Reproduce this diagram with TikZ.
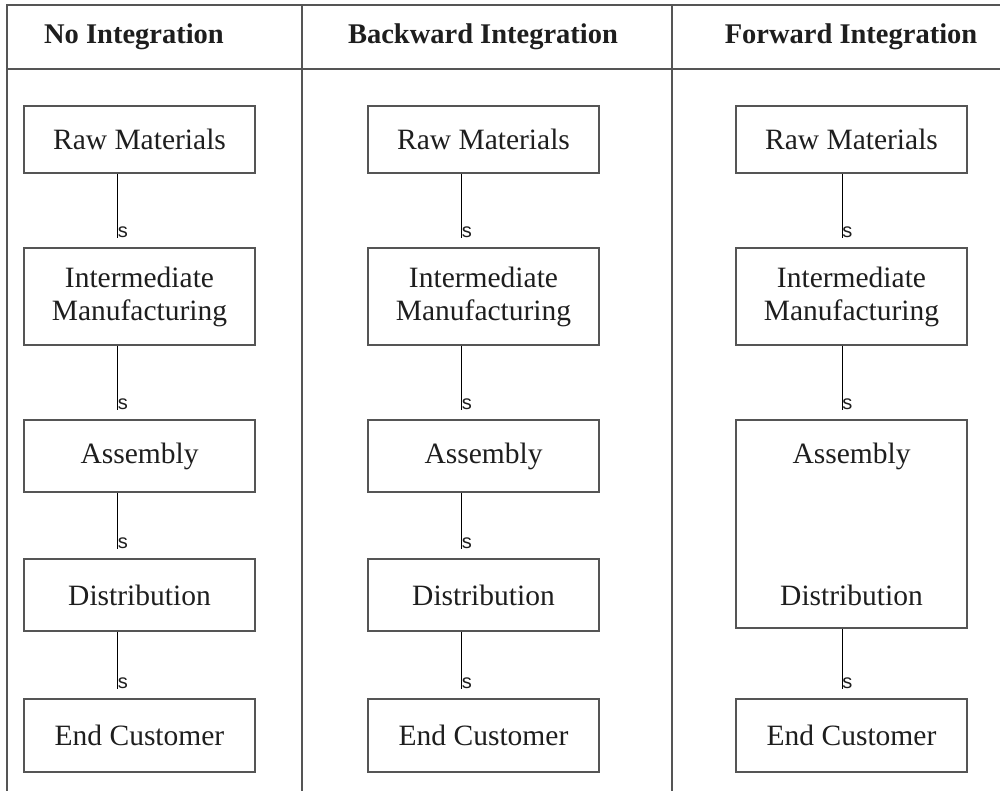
\documentclass[tikz,border=0pt]{standalone}
\usepackage{fontspec}
\setmainfont{Liberation Serif}
\newfontfamily\stagefont{Liberation Serif}
\newfontfamily\slfont{Liberation Sans}
\definecolor{frame}{HTML}{555555}
\definecolor{ink}{HTML}{1e1e1e}
\begin{document}
\begin{tikzpicture}[x=1pt,y=-1pt,
  frameline/.style={draw=frame,line width=1.4pt},
  stagebox/.style={draw=frame,line width=1.3pt,rectangle,inner sep=0pt,
    minimum width=231pt,text=ink,align=center,
    font=\stagefont\fontsize{29.5}{33}\selectfont},
  stagetext/.style={inner sep=0pt,text=ink,font=\stagefont\fontsize{29.5}{33}\selectfont},
  headtext/.style={inner sep=0pt,text=ink,font=\stagefont\fontsize{28.5}{32}\selectfont\bfseries},
  conn/.style={draw=black,line width=0.9pt,shorten >=9pt},
  slabel/.style={inner sep=0pt,anchor=south west,yshift=9pt,
    font=\slfont\fontsize{20}{20}\selectfont,text=ink}]
\useasboundingbox (0,0) rectangle (1000,791);
% frame
\draw[frameline] (1000,5) -- (7,5) -- (7,791);
\draw[frameline] (7,69) -- (1000,69);
\draw[frameline] (302,5) -- (302,791);
\draw[frameline] (672,5) -- (672,791);
% headers
\node[headtext] (h1) at (134,37) {No Integration};
\node[headtext] (h2) at (483,37) {Backward Integration};
\node[headtext] (h3) at (851,37) {Forward Integration};
% column 1
\node[stagebox,minimum height=67pt] (r1) at (139.5,139.5) {Raw Materials};
\node[stagebox,minimum height=97pt] (i1) at (139.5,296.5) {Intermediate\\Manufacturing};
\node[stagebox,minimum height=72pt] (a1) at (139.5,456) {Assembly};
\node[stagebox,minimum height=72pt] (d1) at (139.5,595) {Distribution};
\node[stagebox,minimum height=73pt] (e1) at (139.5,735.5) {End Customer};
% column 2
\node[stagebox,minimum height=67pt] (r2) at (483.5,139.5) {Raw Materials};
\node[stagebox,minimum height=97pt] (i2) at (483.5,296.5) {Intermediate\\Manufacturing};
\node[stagebox,minimum height=72pt] (a2) at (483.5,456) {Assembly};
\node[stagebox,minimum height=72pt] (d2) at (483.5,595) {Distribution};
\node[stagebox,minimum height=73pt] (e2) at (483.5,735.5) {End Customer};
% column 3
\node[stagebox,minimum height=67pt] (r3) at (851.5,139.5) {Raw Materials};
\node[stagebox,minimum height=97pt] (i3) at (851.5,296.5) {Intermediate\\Manufacturing};
\node[stagebox,minimum height=208pt] (ad3) at (851.5,524) {};
\node[stagetext] (a3) at (851.5,456) {Assembly};
\node[stagetext] (d3) at (851.5,595) {Distribution};
\node[stagebox,minimum height=73pt] (e3) at (851.5,735.5) {End Customer};
% connectors
\foreach \c in {1,2} {
  \draw[conn] ([xshift=-22pt]r\c.south) -- ([xshift=-22pt]i\c.north) node[pos=1,slabel] {s};
  \draw[conn] ([xshift=-22pt]i\c.south) -- ([xshift=-22pt]a\c.north) node[pos=1,slabel] {s};
  \draw[conn] ([xshift=-22pt]a\c.south) -- ([xshift=-22pt]d\c.north) node[pos=1,slabel] {s};
  \draw[conn] ([xshift=-22pt]d\c.south) -- ([xshift=-22pt]e\c.north) node[pos=1,slabel] {s};
}
\draw[conn] ([xshift=-9.5pt]r3.south) -- ([xshift=-9.5pt]i3.north) node[pos=1,slabel] {s};
\draw[conn] ([xshift=-9.5pt]i3.south) -- ([xshift=-9.5pt]ad3.north) node[pos=1,slabel] {s};
\draw[conn] ([xshift=-9.5pt]ad3.south) -- ([xshift=-9.5pt]e3.north) node[pos=1,slabel] {s};
\end{tikzpicture}
\end{document}
